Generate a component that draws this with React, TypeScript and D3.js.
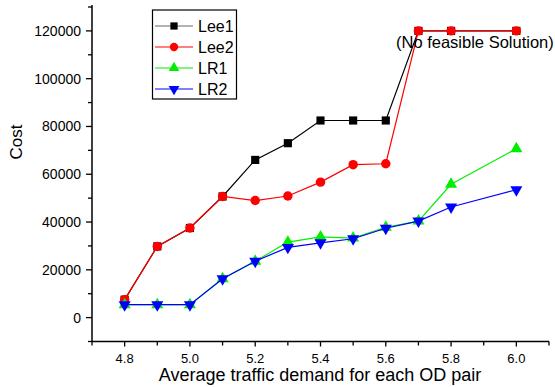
import React, { useEffect, useRef } from 'react';
import * as d3 from 'd3';

// demand values on the x axis
const demand = [4.8, 4.9, 5.0, 5.1, 5.2, 5.3, 5.4, 5.5, 5.6, 5.7, 5.8, 6.0];

// cost series
const lee1 = [7500, 29800, 37500, 50700, 66000, 73000, 82500, 82500, 82500, 120000, 120000, 120000];
const lee2 = [7500, 29800, 37500, 50700, 49000, 50900, 56700, 64000, 64400, 120000, 120000, 120000];
const lr1 = [5400, 5400, 5400, 16300, 23600, 31600, 33800, 33300, 37800, 40400, 55800, 70700];
const lr2 = [5400, 5400, 5400, 16300, 23600, 29400, 31300, 33000, 37400, 40400, 46300, 53500];

const xTicks = [4.8, 5.0, 5.2, 5.4, 5.6, 5.8, 6.0];
const yTicks = [0, 20000, 40000, 60000, 80000, 100000, 120000];

const seriesNames = ['Lee1', 'Lee2', 'LR1', 'LR2'];

const FONT = '"Liberation Sans", Arial, sans-serif';

const App = () => {
  const ref = useRef<SVGSVGElement | null>(null);

  useEffect(() => {
    if (!ref.current) return;
    const svg = d3.select(ref.current);
    svg.selectAll('*').remove();

    const left = 92;
    const right = 549;
    const top = 5;
    const bottom = 341.5;

    const x = d3.scaleLinear().domain([4.7, 6.1]).range([left, right]);
    const y = d3.scaleLinear().domain([-10000, 130000]).range([bottom, top + 2]);

    // Y axis
    const yAxis = svg.append('g').attr('transform', `translate(${left},0)`);
    yAxis.append('line')
      .attr('x1', 0).attr('x2', 0).attr('y1', top).attr('y2', bottom)
      .attr('stroke', '#000').attr('stroke-width', 1.5);
    d3.range(-10000, 130001, 10000).forEach(v => {
      const major = v % 20000 === 0;
      yAxis.append('line')
        .attr('x1', major ? -6 : -4).attr('x2', 0)
        .attr('y1', y(v)).attr('y2', y(v))
        .attr('stroke', '#000').attr('stroke-width', 1.3);
    });
    yAxis.selectAll('.ylab')
      .data(yTicks)
      .enter()
      .append('text')
      .attr('x', -11)
      .attr('y', d => y(d) + 5)
      .attr('text-anchor', 'end')
      .style('font-family', FONT)
      .style('font-size', '14px')
      .text(d => String(d));

    // X axis
    const xAxis = svg.append('g').attr('transform', `translate(0,${bottom})`);
    xAxis.append('line')
      .attr('x1', left).attr('x2', right).attr('y1', 0).attr('y2', 0)
      .attr('stroke', '#000').attr('stroke-width', 1.5);
    d3.range(47, 62).forEach(i => {
      const v = i / 10;
      xAxis.append('line')
        .attr('x1', x(v)).attr('x2', x(v))
        .attr('y1', 0).attr('y2', i % 2 === 0 ? 5 : 4)
        .attr('stroke', '#000').attr('stroke-width', 1.3);
    });
    xAxis.selectAll('.xlab')
      .data(xTicks)
      .enter()
      .append('text')
      .attr('x', d => x(d))
      .attr('y', 21)
      .attr('text-anchor', 'middle')
      .style('font-family', FONT)
      .style('font-size', '13px')
      .text(d => d.toFixed(1));

    // axis titles
    svg.append('text')
      .attr('x', 320)
      .attr('y', 381)
      .attr('text-anchor', 'middle')
      .style('font-family', FONT)
      .style('font-size', '18px')
      .text('Average traffic demand for each OD pair');

    svg.append('text')
      .attr('transform', 'translate(22,142) rotate(-90)')
      .attr('text-anchor', 'middle')
      .style('font-family', FONT)
      .style('font-size', '17px')
      .text('Cost');

    const colors = ['#000000', '#ff0000', '#00ee00', '#0000ff'];
    const allData = [lee1, lee2, lr1, lr2];

    const symbol = (i: number, size: number) => {
      if (i === 0) return d3.symbol().type(d3.symbolSquare).size(size * 0.95)();
      if (i === 1) return d3.symbol().type(d3.symbolCircle).size(size)();
      return d3.symbol().type(d3.symbolTriangle).size(size * 0.9)();
    };

    const line = d3.line<number>()
      .x((d, j) => x(demand[j]))
      .y(d => y(d));

    allData.forEach((vals, i) => {
      const g = svg.append('g');
      g.append('path')
        .attr('d', line(vals))
        .attr('fill', 'none')
        .attr('stroke', colors[i])
        .attr('stroke-width', 1.2);
      g.selectAll('.pt')
        .data(vals)
        .enter()
        .append('path')
        .attr('d', symbol(i, 70))
        .attr('transform', (d, j) =>
          `translate(${x(demand[j])},${y(d)})${i === 3 ? ' rotate(180)' : ''}`)
        .attr('fill', colors[i]);
    });

    // annotation
    svg.append('text')
      .attr('x', 396)
      .attr('y', 48)
      .style('font-family', FONT)
      .style('font-size', '16.5px')
      .text('(No feasible Solution)');

    // legend
    const lg = svg.append('g');
    lg.append('rect')
      .attr('x', 152.5).attr('y', 10)
      .attr('width', 84).attr('height', 89)
      .attr('fill', '#fff')
      .attr('stroke', '#000')
      .attr('stroke-width', 1.2);
    seriesNames.forEach((name, i) => {
      const yy = 26 + i * 21;
      lg.append('line')
        .attr('x1', 155).attr('x2', 193)
        .attr('y1', yy).attr('y2', yy)
        .attr('stroke', i === 0 ? '#666' : colors[i])
        .attr('stroke-width', 1.2);
      lg.append('path')
        .attr('d', symbol(i, 55))
        .attr('transform', `translate(174,${yy})${i === 3 ? ' rotate(180)' : ''}`)
        .attr('fill', colors[i]);
      lg.append('text')
        .attr('x', 198)
        .attr('y', yy + 6)
        .style('font-family', FONT)
        .style('font-size', '16px')
        .text(name);
    });
  }, []);

  return (
    <svg
      ref={ref}
      width={555}
      height={387}
      style={{ position: 'absolute', left: 0, top: 0, background: '#fff' }}
    />
  );
};

export default App;
